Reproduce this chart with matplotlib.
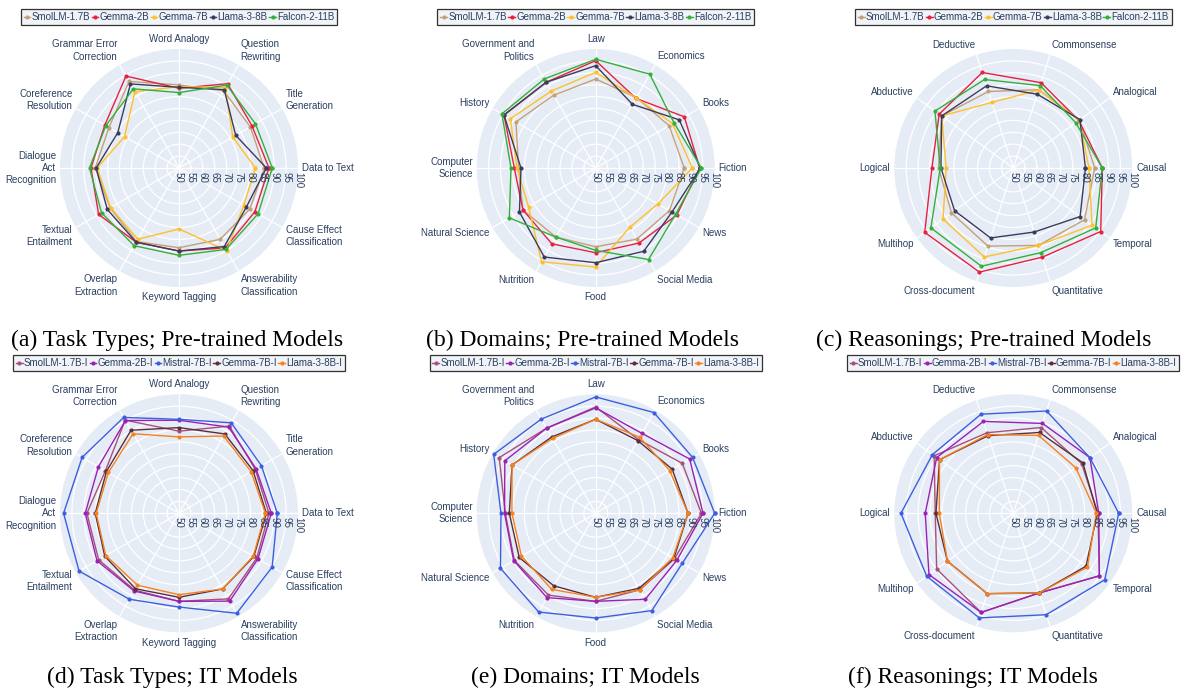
import numpy as np
import matplotlib
matplotlib.use("Agg")
import matplotlib.pyplot as plt
from matplotlib.transforms import offset_copy

#categories (counterclockwise from the right)
task_types = ["Data to Text", "Title\nGeneration", "Question\nRewriting", "Word Analogy",
              "Grammar Error\nCorrection", "Coreference\nResolution", "Dialogue\nAct\nRecognition",
              "Textual\nEntailment", "Overlap\nExtraction", "Keyword Tagging",
              "Answerability\nClassification", "Cause Effect\nClassification"]
domains = ["Fiction", "Books", "Economics", "Law", "Government and\nPolitics", "History",
           "Computer\nScience", "Natural Science", "Nutrition", "Food", "Social Media", "News"]
reasonings = ["Causal", "Analogical", "Commonsense", "Deductive", "Abductive", "Logical",
              "Multihop", "Cross-document", "Quantitative", "Temporal"]

pt_models = ["SmolLM-1.7B", "Gemma-2B", "Gemma-7B", "Llama-3-8B", "Falcon-2-11B"]
it_models = ["SmolLM-1.7B-I", "Gemma-2B-I", "Mistral-7B-I", "Gemma-7B-I", "Llama-3-8B-I"]
pt_colors = ["#C4A079", "#E8203F", "#FFC02A", "#3D3B5C", "#33B03A"]
it_colors = ["#A8507A", "#9B21B5", "#3D5EE0", "#5A2F3C", "#F5821F"]

#(a) task types, pre-trained
task_pt_smollm = [85.8, 84.6, 87.5, 84.9, 92.0, 84.0, 85.2, 83.4, 85.7, 83.5, 84.6, 84.4]
task_pt_gemma2 = [87.8, 85.4, 90.9, 83.5, 94.6, 86.0, 87.0, 89.0, 86.0, 84.9, 88.8, 86.8]
task_pt_gemma7 = [82.1, 76.1, 89.0, 84.2, 87.0, 76.4, 84.4, 83.2, 84.6, 75.6, 90.1, 81.4]
task_pt_llama = [86.7, 77.5, 88.0, 83.9, 90.8, 79.7, 84.8, 84.8, 86.0, 84.9, 88.1, 82.7]
task_pt_falcon = [89.2, 87.1, 90.2, 81.7, 88.4, 85.5, 87.6, 87.6, 87.7, 86.7, 89.5, 88.4]

#(b) domains, pre-trained
dom_pt_smollm = [87.2, 85.6, 84.2, 87.4, 85.3, 88.7, 82.4, 85.3, 83.5, 83.1, 84.5, 85.8]
dom_pt_gemma2 = [93.7, 93.0, 83.8, 95.1, 91.6, 94.5, 84.2, 85.3, 86.8, 85.6, 86.4, 89.4]
dom_pt_gemma7 = [90.6, 87.3, 84.0, 90.2, 87.3, 91.4, 83.1, 82.6, 95.5, 91.6, 78.7, 80.2]
dom_pt_llama = [94.0, 90.5, 80.9, 93.0, 91.6, 94.5, 81.4, 87.0, 93.2, 89.8, 90.4, 87.0]
dom_pt_falcon = [94.4, 88.0, 95.5, 95.7, 93.2, 95.5, 85.6, 91.9, 83.5, 84.6, 94.4, 88.8]

#(c) reasonings, pre-trained
rea_pt_smollm = [84.2, 84.3, 84.6, 83.8, 87.2, 81.4, 82.1, 84.5, 84.2, 87.0]
rea_pt_gemma2 = [87.4, 84.0, 87.7, 92.2, 88.5, 84.2, 96.0, 96.0, 89.4, 95.4]
rea_pt_gemma7 = [81.8, 84.3, 84.4, 79.0, 87.2, 78.2, 86.5, 89.3, 84.2, 90.9]
rea_pt_llama = [80.3, 84.6, 82.6, 86.3, 87.2, 80.4, 80.5, 80.9, 78.3, 84.7]
rea_pt_falcon = [87.4, 82.4, 86.4, 89.1, 90.7, 80.7, 92.8, 93.4, 87.4, 92.8]

#(d) task types, IT
task_it_smollm = [87.8, 87.0, 92.3, 84.5, 95.2, 85.7, 88.7, 89.0, 87.3, 87.0, 91.5, 87.7]
task_it_gemma2 = [88.8, 87.4, 91.8, 89.1, 95.0, 89.1, 89.4, 89.8, 87.7, 87.0, 92.6, 88.3]
task_it_mistral = [91.3, 90.0, 93.9, 89.5, 96.5, 97.0, 98.5, 98.5, 91.7, 89.4, 98.5, 95.2]
task_it_gemma7 = [86.7, 85.9, 88.5, 86.0, 90.3, 85.2, 85.2, 86.0, 86.6, 85.3, 86.7, 86.3]
task_it_llama = [86.3, 85.0, 87.5, 82.1, 88.6, 84.3, 84.8, 85.5, 84.9, 84.2, 86.7, 86.0]

#(e) domains, IT
dom_it_smollm = [94.4, 92.0, 85.8, 94.7, 91.3, 96.8, 88.0, 89.5, 89.7, 87.0, 87.1, 88.2]
dom_it_gemma2 = [95.1, 95.6, 88.8, 94.3, 91.3, 94.1, 88.3, 89.8, 90.9, 87.0, 91.7, 89.4]
dom_it_mistral = [100.0, 97.0, 98.9, 98.9, 95.7, 99.5, 89.8, 96.2, 97.9, 94.0, 97.2, 92.0]
dom_it_gemma7 = [88.8, 87.1, 85.3, 89.5, 87.0, 90.6, 86.3, 87.1, 85.2, 85.3, 86.4, 87.9]
dom_it_llama = [88.8, 85.9, 86.9, 89.5, 86.3, 90.6, 85.2, 86.0, 86.9, 85.3, 87.2, 87.4]

#(f) reasonings, IT
rea_it_smollm = [85.6, 85.5, 87.9, 85.6, 91.1, 82.8, 89.8, 93.8, 85.2, 94.7]
rea_it_gemma2 = [85.9, 89.8, 89.7, 90.6, 89.8, 87.0, 93.8, 93.8, 85.2, 94.7]
rea_it_mistral = [94.3, 89.8, 95.2, 93.8, 92.0, 97.2, 95.0, 96.2, 94.8, 97.5]
rea_it_gemma7 = [85.3, 86.1, 85.7, 84.3, 88.3, 82.5, 84.2, 85.5, 85.2, 87.8]
rea_it_llama = [84.9, 82.5, 84.4, 84.8, 88.3, 81.1, 84.2, 85.5, 85.2, 88.5]

W, H = 1184, 695
R = 119
BG = "#E5ECF6"
TXT = "#2A3F5F"
FONT = ["Liberation Sans", "DejaVu Sans"]
FS = 7.0
FS_PX = FS * 100 / 72
PAD = 4

fig = plt.figure(figsize=(W / 100, H / 100), dpi=100)


def radar(cx, cy, cats, series, names, colors, leg_y, caption, cap_xy):
    ax = fig.add_axes([(cx - R) / W, (H - cy - R) / H, 2 * R / W, 2 * R / H], projection="polar")
    n = len(cats)
    theta = np.arange(n) * 2 * np.pi / n
    ax.set_facecolor(BG)
    ax.set_ylim(50, 100)
    ax.set_xticks(theta)
    ax.set_xticklabels([])
    ax.set_yticks(np.arange(55, 100, 5))
    ax.set_yticklabels([])
    ax.tick_params(length=0)
    ax.grid(color="white", lw=0.9)
    ax.spines["polar"].set_visible(False)

    handles = []
    for vals, name, col in zip(series, names, colors):
        t = np.append(theta, theta[0])
        v = np.append(vals, vals[0])
        h, = ax.plot(t, v, color=col, lw=1.0, marker="o", ms=2.0, label=name, clip_on=False)
        handles.append(h)

    #category labels
    for th, lab in zip(theta, cats):
        c, s = np.cos(th), np.sin(th)
        nl = lab.count("\n") + 1
        hgt = nl * FS_PX * 1.3
        if abs(c) < 0.2:
            ha, dx = "center", 0
        else:
            ha = "left" if c > 0 else "right"
            dx = PAD * c
        dy = s * (PAD + hgt / 2)
        tr = offset_copy(ax.transData, fig=fig, x=dx, y=dy, units="dots")
        ax.text(th, 100, lab, transform=tr, ha=ha, va="center", multialignment=ha,
                fontsize=FS, color=TXT, family=FONT, linespacing=1.3, clip_on=False)

    #radial tick labels
    for r in range(50, 101, 5):
        tr = offset_copy(ax.transData, fig=fig, x=0, y=-4, units="dots")
        ax.text(0, r, str(r), transform=tr, rotation=-90, ha="center", va="top",
                fontsize=FS, color=TXT, family=FONT, clip_on=False)

    #legend centred over the polar disk
    leg = fig.legend(handles, names, loc="upper center", bbox_to_anchor=(cx / W, 1 - leg_y / H),
                     ncol=5, handlelength=0.7, handletextpad=0.12,
                     columnspacing=0.15, borderpad=0.3, borderaxespad=0, fancybox=False,
                     frameon=True, prop={"family": FONT, "size": 7.0})
    leg.get_frame().set_edgecolor("black")
    leg.get_frame().set_linewidth(0.9)
    leg.get_frame().set_facecolor("#EDF0F6")
    for t in leg.get_texts():
        t.set_color(TXT)

    fig.text(cap_xy[0] / W, 1 - cap_xy[1] / H, caption, ha="center", va="center",
             fontsize=17, family="Liberation Serif")


pt_task = [task_pt_smollm, task_pt_gemma2, task_pt_gemma7, task_pt_llama, task_pt_falcon]
pt_dom = [dom_pt_smollm, dom_pt_gemma2, dom_pt_gemma7, dom_pt_llama, dom_pt_falcon]
pt_rea = [rea_pt_smollm, rea_pt_gemma2, rea_pt_gemma7, rea_pt_llama, rea_pt_falcon]
it_task = [task_it_smollm, task_it_gemma2, task_it_mistral, task_it_gemma7, task_it_llama]
it_dom = [dom_it_smollm, dom_it_gemma2, dom_it_mistral, dom_it_gemma7, dom_it_llama]
it_rea = [rea_it_smollm, rea_it_gemma2, rea_it_mistral, rea_it_gemma7, rea_it_llama]

radar(179, 168, task_types, pt_task, pt_models, pt_colors, 9,
      "(a) Task Types; Pre-trained Models", (177, 340))
radar(595.7, 168, domains, pt_dom, pt_models, pt_colors, 9,
      "(b) Domains; Pre-trained Models", (582, 340))
radar(1013.3, 168, reasonings, pt_rea, pt_models, pt_colors, 9,
      "(c) Reasonings; Pre-trained Models", (984, 340))
radar(179, 513.3, task_types, it_task, it_models, it_colors, 355,
      "(d) Task Types; IT Models", (172, 677))
radar(595.7, 513.3, domains, it_dom, it_models, it_colors, 355,
      "(e) Domains; IT Models", (585, 677))
radar(1013.3, 513.3, reasonings, it_rea, it_models, it_colors, 355,
      "(f) Reasonings; IT Models", (973, 677))

plt.savefig("out.png", dpi=100)
